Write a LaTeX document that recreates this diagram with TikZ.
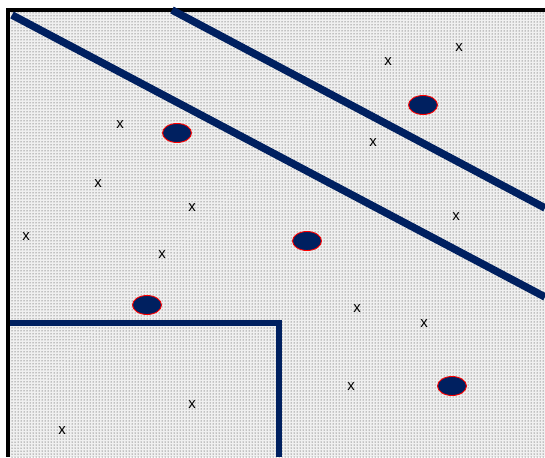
\documentclass[tikz,border=0pt]{standalone}
\usepackage{fontspec}
\setmainfont{Liberation Sans}
\usetikzlibrary{patterns,shapes.geometric}
\definecolor{navy}{RGB}{0,32,96}

\begin{document}
\begin{tikzpicture}[x=1pt,y=-1pt]
\useasboundingbox (0,0) rectangle (545,457);
% Dotted background
\fill[black!6] (10,10) rectangle (545,457);
\fill[pattern=dots, pattern color=black!85] (10,10) rectangle (545,457);
% Frame (top and left only)
\draw[line width=3.5pt] (545,10) -- (8,10) -- (8,457);
% Separating lines
\draw[navy, line width=7.5pt] (12,15) -- (545,297);
\draw[navy, line width=7.5pt] (172,10) -- (545,208);
\draw[navy, line width=6.5pt] (10,323) -- (279,323) -- (279,457);
% Class markers
\foreach \p/\c in {a/{177,133},b/{423,105},c/{307,241},d/{147,305},e/{452,386}} {
  \node[ellipse, fill=navy, draw=red, line width=0.9pt, minimum width=29pt, minimum height=19pt, inner sep=0pt] (e\p) at (\c) {};
}
% Crosses
\foreach \c [count=\i] in {{388,62},{459,48},{120,125},{373,143},{98,184},{192,208},{456,217},{26,237},{162,255},{357,309},{424,324},{351,387},{192,405},{62,431}} {
  \node[font=\fontsize{15}{15}\selectfont, inner sep=0pt] (x\i) at (\c) {x};
}
\end{tikzpicture}
\end{document}
